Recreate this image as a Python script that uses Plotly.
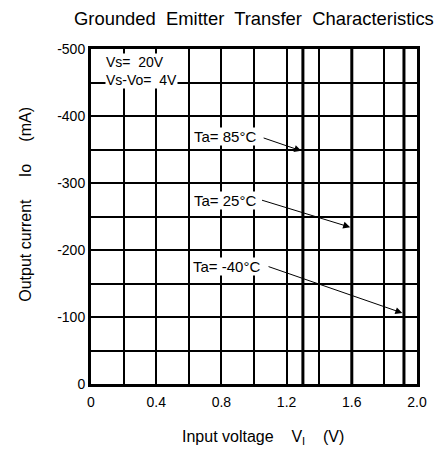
import plotly.graph_objects as go

# ---- data ----
temps = ["85°C", "25°C", "-40°C"]
vi_threshold = [1.30, 1.60, 1.92]          # input voltage (V) where each curve rises
io_span = [0, -500]                          # output current extent (mA)

# label anchor (Vi, Io), arrow tail and arrow tip (Vi, Io) for each temperature
label_vi = [0.825, 0.82, 0.83]
label_io = [-369, -274, -176]
tail_vi = [1.05, 1.04, 1.08]
tail_io = [-368, -275, -176]
tip_vi = [1.29, 1.59, 1.91]
tip_io = [-348, -234, -106]

x_ticks = [0, 0.4, 0.8, 1.2, 1.6, 2.0]
x_tick_labels = ["0", "0.4", "0.8", "1.2", "1.6", "2.0"]
y_ticks = [0, -100, -200, -300, -400, -500]
y_tick_labels = ["0", "-100", "-200", "-300", "-400", "-500"]

FONT = "Liberation Sans, Arial, sans-serif"
NB = "\u00a0"

fig = go.Figure()
for t, v in zip(temps, vi_threshold):
    fig.add_trace(go.Scatter(x=[v, v], y=io_span, mode="lines",
                             line=dict(color="black", width=3),
                             name="Ta=" + t, showlegend=False))

grid = dict(showgrid=True, gridcolor="black", gridwidth=1.6)
fig.update_xaxes(range=[0, 2], tickvals=x_ticks, ticktext=x_tick_labels,
                 showline=True, linecolor="black", linewidth=3, mirror=True,
                 zeroline=False, ticks="", ticklabelstandoff=3,
                 tickfont=dict(size=14, color="black", family=FONT),
                 minor=dict(dtick=0.2, showgrid=True, gridcolor="black", gridwidth=1.6),
                 **grid)
fig.update_yaxes(range=[0, -500], tickvals=y_ticks, ticktext=y_tick_labels,
                 showline=True, linecolor="black", linewidth=3, mirror=True,
                 zeroline=False, ticks="", ticklabelstandoff=0,
                 tickfont=dict(size=14, color="black", family=FONT),
                 minor=dict(dtick=50, showgrid=True, gridcolor="black", gridwidth=1.6),
                 **grid)

ann = []
for t, lx, ly, tx, ty, hx, hy in zip(temps, label_vi, label_io, tail_vi, tail_io, tip_vi, tip_io):
    ann.append(dict(x=lx, y=ly, xref="x", yref="y", text="Ta=" + NB + t,
                    showarrow=False, bgcolor="white", borderpad=0,
                    font=dict(size=15, color="black", family=FONT)))
    ann.append(dict(x=hx, y=hy, ax=tx, ay=ty, xref="x", yref="y", axref="x", ayref="y",
                    text="", showarrow=True, arrowhead=2, arrowsize=1.4,
                    arrowwidth=1, arrowcolor="black"))
ann.append(dict(x=0.085, y=-467, xref="x", yref="y", xanchor="left", align="left",
                text="Vs=" + NB + " 20V<br>Vs-Vo=" + NB + " 4V", showarrow=False,
                bgcolor="white", borderpad=0,
                font=dict(size=14, color="black", family=FONT)))
# title and axis titles
ann.append(dict(x=0.4985, y=1.0925, xref="paper", yref="paper", showarrow=False,
                xanchor="center", yanchor="middle",
                text=(NB + " ").join(["Grounded", "Emitter", "Transfer", "Characteristics"]),
                font=dict(size=18.4, color="black", family=FONT)))
ann.append(dict(x=0.528, y=-0.161, xref="paper", yref="paper", showarrow=False,
                xanchor="center", yanchor="middle",
                text="Input voltage" + NB * 3 + " V<sub>I</sub>" + NB * 3 + " (V)",
                font=dict(size=16, color="black", family=FONT)))
ann.append(dict(x=-0.2036, y=0.537, xref="paper", yref="paper", showarrow=False,
                xanchor="center", yanchor="middle", textangle=-90,
                text="Output current" + NB * 4 + " Io" + NB * 4 + " (mA)",
                font=dict(size=16, color="black", family=FONT)))

fig.update_layout(width=439, height=451,
                  margin=dict(l=91, r=14, t=49, b=67),
                  plot_bgcolor="white", paper_bgcolor="white",
                  annotations=ann, showlegend=False)

fig.write_html("out.html", config={"displayModeBar": False},
               post_script="document.body.style.margin='0';document.body.style.overflow='hidden';")
